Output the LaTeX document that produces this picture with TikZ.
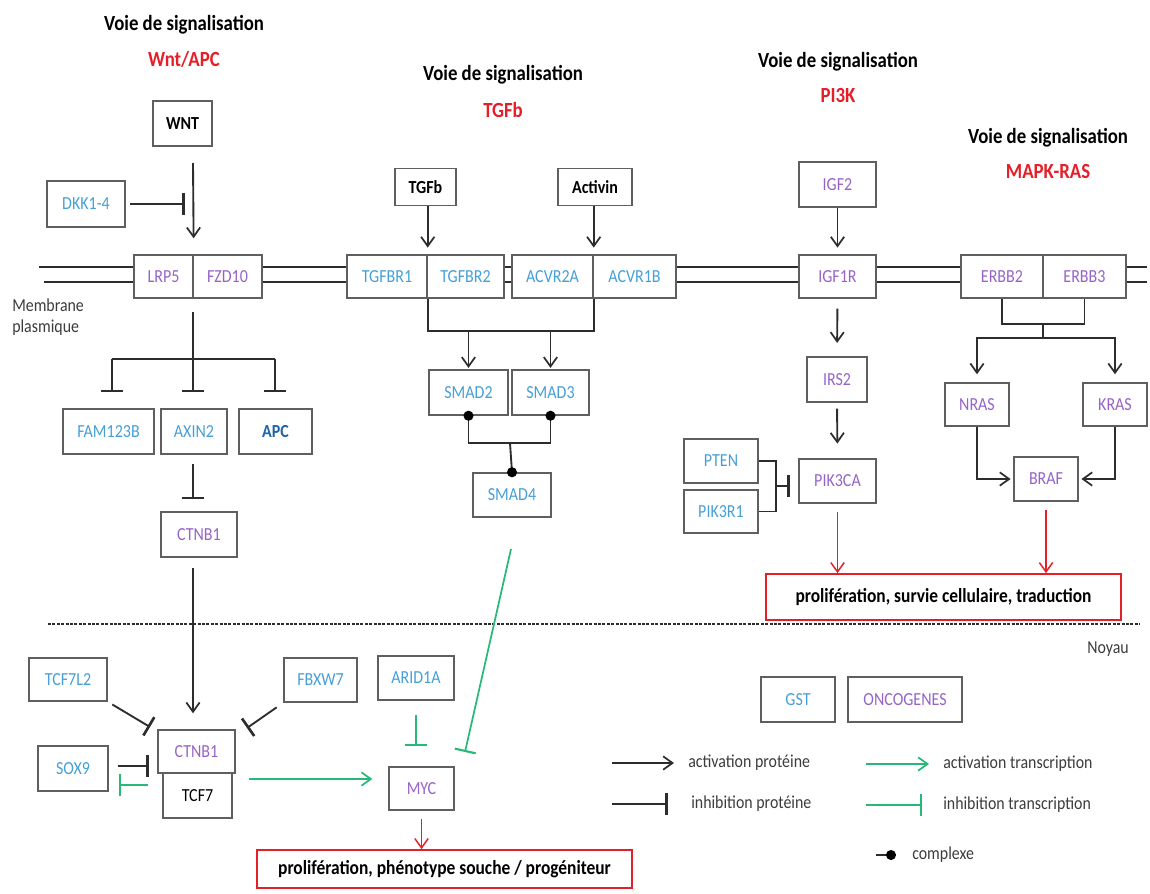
\documentclass[tikz,border=0pt]{standalone}
\usepackage{fontspec}
\setmainfont{Carlito}[FakeStretch=0.87]
\usetikzlibrary{arrows.meta}
\definecolor{tblue}{RGB}{70,160,215}
\definecolor{tpurple}{RGB}{150,100,200}
\definecolor{apcblue}{RGB}{30,100,170}
\definecolor{tred}{RGB}{230,30,40}
\definecolor{tgreen}{RGB}{40,185,120}
\definecolor{boxC}{RGB}{95,95,95}
\definecolor{lineC}{RGB}{45,45,45}
\definecolor{txtC}{RGB}{60,60,60}
\begin{document}
\begin{tikzpicture}[x=0.75pt,y=-0.75pt,
  box/.style n args={2}{draw=boxC, line width=1.1pt, fill=white, inner sep=0pt,
    minimum width=#1*0.75pt, minimum height=#2*0.75pt,
    font=\fontsize{13.8}{15}\selectfont},
  gb/.style={text=tblue},
  pb/.style={text=tpurple},
  redbox/.style n args={2}{draw=tred, line width=1.3pt, fill=white, inner sep=0pt,
    minimum width=#1*0.75pt, minimum height=#2*0.75pt,
    font=\fontsize{15}{17}\selectfont\bfseries},
  title/.style={font=\fontsize{16.2}{18}\selectfont\bfseries, text=black, inner sep=0pt},
  subt/.style={font=\fontsize{16.2}{18}\selectfont\bfseries, text=tred, inner sep=0pt},
  lbl/.style={font=\fontsize{13.7}{15}\selectfont, text=txtC, inner sep=0pt, anchor=west},
  line/.style={draw=lineC, line width=1.4pt},
  act/.style={line, -{Straight Barb[length=7pt,width=10pt,line width=1.3pt]}},
  inh/.style={line, -{Bar[width=16pt,line width=2pt]}},
  gact/.style={draw=tgreen, line width=1.3pt, -{Straight Barb[length=7pt,width=10pt,line width=1.3pt]}},
  ginh/.style={draw=tgreen, line width=1.3pt, -{Bar[width=16pt,line width=1.6pt]}},
  ract/.style={draw=tred, line width=1.1pt, -{Straight Barb[length=7pt,width=10pt,line width=1.1pt]}},
  mem/.style={draw=lineC, line width=1.6pt},
  dot/.style={fill=black}
]
\useasboundingbox (0,0) rectangle (1150,893);

% membrane and nucleus boundary
\draw[mem] (39,267) -- (1147,267);
\draw[mem] (44,282) -- (1147,282);
\draw[draw=lineC, line width=1.6pt, dash pattern=on 2.2pt off 1.1pt] (48,624) -- (1140,624);

% titles
\node[title] (t1a) at (184,25) {Voie de signalisation};
\node[subt] (t1b) at (184,59) {Wnt/APC};
\node[title] (t2a) at (503,75) {Voie de signalisation};
\node[subt] (t2b) at (503,110) {TGFb};
\node[title] (t3a) at (838,62) {Voie de signalisation};
\node[subt] (t3b) at (838,95) {PI3K};
\node[title] (t4a) at (1048,138) {Voie de signalisation};
\node[subt] (t4b) at (1048,171) {MAPK-RAS};
\node[lbl] (memA) at (12,305) {Membrane};
\node[lbl] (memB) at (12,328) {plasmique};
\node[lbl] (noy) at (1087,649) {Noyau};

% Wnt pathway
\node[box={59}{45}] (WNT) at (182.5,123.5) {\bfseries WNT};
\node[box={78}{46}, gb] (DKK) at (86,204) {DKK1-4};
\node[box={59}{43}, pb] (LRP5) at (163.5,276.5) {LRP5};
\node[box={69}{43}, pb] (FZD10) at (227.5,276.5) {FZD10};
\node[box={91}{45}, gb] (FAM) at (108.5,431.5) {FAM123B};
\node[box={66}{45}, gb] (AXIN) at (194,431.5) {AXIN2};
\node[box={73}{45}, text=apcblue] (APC) at (275.5,431.5) {\bfseries APC};
\node[box={76}{45}, pb] (CTNBa) at (199,534.5) {CTNB1};

% TGFb pathway
\node[box={61}{37}] (TGFb) at (425.5,187) {\bfseries TGFb};
\node[box={74}{37}] (ACT) at (595,187) {\bfseries Activin};
\node[box={80}{43}, gb] (TR1) at (387,276.5) {TGFBR1};
\node[box={77}{43}, gb] (TR2) at (465.5,276.5) {TGFBR2};
\node[box={81}{43}, gb] (AR2) at (552.5,276.5) {ACVR2A};
\node[box={83}{43}, gb] (AR1) at (634.5,276.5) {ACVR1B};
\node[box={79}{45}, gb] (S2) at (468.5,392.5) {SMAD2};
\node[box={77}{45}, gb] (S3) at (550.5,392.5) {SMAD3};
\node[box={78}{44}, gb] (S4) at (512,495) {SMAD4};

% PI3K pathway
\node[box={77}{45}, pb] (IGF2) at (837.5,184.5) {IGF2};
\node[box={77}{43}, pb] (IGF1R) at (837.5,276.5) {IGF1R};
\node[box={60}{45}, pb] (IRS2) at (837,379.5) {IRS2};
\node[box={77}{44}, pb] (PIK) at (837.5,481) {PIK3CA};
\node[box={74}{44}, gb] (PTEN) at (721,461) {PTEN};
\node[box={74}{43}, gb] (PIKR) at (721,511.5) {PIK3R1};

% MAPK pathway
\node[box={82}{43}, pb] (EB2) at (1002,276.5) {ERBB2};
\node[box={83}{43}, pb] (EB3) at (1084.5,276.5) {ERBB3};
\node[box={64}{43}, pb] (NRAS) at (977,404.5) {NRAS};
\node[box={64}{43}, pb] (KRAS) at (1115,404.5) {KRAS};
\node[box={64}{44}, pb] (BRAF) at (1046,479) {BRAF};
\node[redbox={355}{46}] (PR) at (943.5,597) {prolifération, survie cellulaire, traduction};

% nucleus
\node[box={78}{43}, gb] (TCFL) at (68,679.5) {TCF7L2};
\node[box={73}{44}, gb] (FBX) at (320.5,680) {FBXW7};
\node[box={76}{44}, gb] (ARID) at (416,678) {ARID1A};
\node[box={70}{45}, gb] (SOX) at (73,768.5) {SOX9};
\node[box={69}{45}] (TCF7) at (197.5,795.5) {TCF7};
\node[box={77}{43}, pb] (CTNBb) at (196.5,751.5) {CTNB1};
\node[box={65}{43}, pb] (MYC) at (421.5,788.5) {MYC};
\node[redbox={375}{38}] (PL) at (444.5,869) {prolifération, phénotype souche / progéniteur};
\node[box={74}{45}, gb] (GST) at (798,699.5) {GST};
\node[box={114}{45}, pb] (ONC) at (905,699.5) {ONCOGENES};

% ---- Wnt connectors
\coordinate (wtop) at (193,163);
\draw[act, shorten >=12pt] (wtop) -- (LRP5.north east);
\coordinate (dk) at (185,204);
\draw[inh, shorten <=3pt] (DKK.east) -- (dk);
\coordinate (w1) at (193,312);
\coordinate (wj) at (193,359);
\coordinate (wl) at (112,359);
\coordinate (wr) at (275,359);
\draw[line] (w1) -- (wj);
\draw[line] (wl) -- (wr);
\draw[inh, shorten >=12pt] (wl) -- (FAM.north -| wl);
\draw[inh, shorten >=12pt] (wj) -- (AXIN.north -| wj);
\draw[inh, shorten >=12pt] (wr) -- (APC.north -| wr);
\draw[inh, shorten <=7pt, shorten >=9pt] (AXIN.south -| wj) -- (CTNBa.north -| wj);
\draw[act, shorten <=7.5pt, shorten >=12pt] (CTNBa.south -| wj) -- (CTNBb.north -| wj);

% ---- TGFb connectors
\draw[act, shorten >=5pt] (TGFb.south -| TR1.north east) -- (TR1.north east);
\draw[act, shorten >=5pt] (ACT.south -| AR2.north east) -- (AR2.north east);
\coordinate (tj) at (510,331);
\draw[line] (TR1.south east) |- (tj) -| (AR2.south east);
\draw[act, shorten >=1pt] (S2.north |- tj) -- (S2.north);
\draw[act, shorten >=1pt] (S3.north |- tj) -- (S3.north);
\coordinate (sj) at (510,443);
\draw[line] (S2.south) |- (sj) -| (S3.south);
\draw[line] (sj) -- (S4.north);
\fill[dot] (S2.south) circle[radius=3.8pt];
\fill[dot] (S3.south) circle[radius=3.8pt];
\fill[dot] (S4.north) circle[radius=3.8pt];

% ---- PI3K connectors
\draw[act, shorten >=5pt] (IGF2.south) -- (IGF1R.north);
\draw[act, shorten <=7.5pt, shorten >=10pt] (IGF1R.south) -- (IRS2.north);
\draw[act, shorten <=4.5pt, shorten >=11pt] (IRS2.south) -- (PIK.north);
\coordinate (pj) at (776,486);
\draw[line] (PTEN.east) -| (pj) |- (PIKR.east);
\draw[inh, shorten >=6.5pt] (pj) -- (PIK.west |- pj);
\draw[ract, shorten <=6.5pt] (PIK.south) -- (PR.north -| PIK.south);

% ---- MAPK connectors
\coordinate (ej) at (1043,324);
\coordinate (ek) at (1043,338);
\draw[line] (EB2.south) |- (ej) -| (EB3.south);
\draw[line] (ej) -- (ek);
\draw[act, shorten >=6pt] (ek) -| (NRAS.north);
\draw[act, shorten >=6pt] (ek) -| (KRAS.north);
\draw[act, shorten >=2pt] (NRAS.south) |- (BRAF.west);
\draw[act, shorten >=2pt] (KRAS.south) |- (BRAF.east);
\draw[ract, shorten <=6.5pt] (BRAF.south) -- (PR.north -| BRAF.south);

% ---- nucleus connectors
\coordinate (t1) at (150,727);
\draw[inh, shorten <=4pt] (TCFL.south east) -- (t1);
\coordinate (t2) at (247,728);
\draw[inh, shorten <=6pt] (FBX.south west) -- (t2);
\coordinate (s1) at (149,766);
\draw[inh, shorten <=7pt] (SOX.east |- s1) -- (s1);
\coordinate (s3) at (119,785);
\draw[ginh, shorten <=7pt] (CTNBb.west |- s3) -- (s3);
\coordinate (g1) at (300,779);
\draw[gact, shorten <=10pt, shorten >=12pt] (CTNBb.east |- g1) -- (MYC.west |- g1);
\draw[ginh, shorten <=11pt, shorten >=15pt] (ARID.south) -- (MYC.north -| ARID.south);
\coordinate (g3) at (511,549);
\coordinate (g2) at (465,752);
\draw[ginh] (g3) -- (g2);
\draw[ract, shorten <=6pt] (MYC.south) -- (PL.north -| MYC.south);

% ---- legend
\coordinate (la1) at (612,763); \coordinate (la2) at (674,763);
\draw[act] (la1) -- (la2);
\node[lbl] (lat) at (688,763) {activation protéine};
\coordinate (li1) at (612,804); \coordinate (li2) at (668,804);
\draw[inh] (li1) -- (li2);
\node[lbl] (lit) at (691,804) {inhibition protéine};
\coordinate (ga1) at (866,764); \coordinate (ga2) at (929,764);
\draw[gact] (ga1) -- (ga2);
\node[lbl] (gat) at (943,764) {activation transcription};
\coordinate (gi1) at (866,805); \coordinate (gi2) at (922,805);
\draw[ginh] (gi1) -- (gi2);
\node[lbl] (git) at (943,805) {inhibition transcription};
\coordinate (c1) at (876,855); \coordinate (c2) at (891,855);
\draw[line] (c1) -- (c2);
\fill[dot] (c2) circle[radius=3.8pt];
\node[lbl] (ct) at (912,855) {complexe};
\end{tikzpicture}
\end{document}
